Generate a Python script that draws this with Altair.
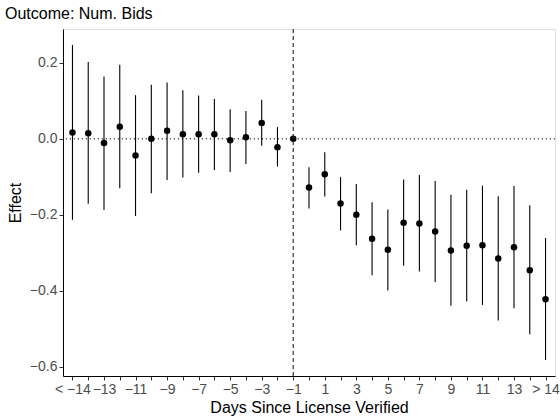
import json
import altair as alt
import pandas as pd

# Event-time bins, estimated effects and 95% confidence bounds (−1 is the reference bin)
days = ["< −14", "−14", "−13", "−12", "−11", "−10", "−9", "−8", "−7", "−6",
        "−5", "−4", "−3", "−2", "−1", "0", "1", "2", "3", "4", "5", "6", "7",
        "8", "9", "10", "11", "12", "13", "14", "> 14"]
effect = [0.017, 0.015, -0.011, 0.032, -0.044, 0.000, 0.021, 0.012, 0.012, 0.012,
          -0.004, 0.004, 0.042, -0.022, 0.000, -0.128, -0.093, -0.170, -0.200,
          -0.263, -0.292, -0.221, -0.223, -0.244, -0.294, -0.281, -0.280, -0.315,
          -0.285, -0.346, -0.422]
lower = [-0.213, -0.171, -0.187, -0.130, -0.203, -0.143, -0.108, -0.102, -0.089,
         -0.082, -0.087, -0.066, -0.018, -0.073, None, -0.183, -0.152, -0.241,
         -0.280, -0.359, -0.399, -0.334, -0.349, -0.377, -0.439, -0.428, -0.437,
         -0.478, -0.446, -0.514, -0.582]
upper = [0.247, 0.202, 0.164, 0.195, 0.115, 0.142, 0.148, 0.128, 0.114, 0.105,
         0.078, 0.073, 0.103, 0.031, None, -0.075, -0.035, -0.100, -0.119, -0.167,
         -0.186, -0.107, -0.095, -0.111, -0.147, -0.134, -0.123, -0.151, -0.124,
         -0.175, -0.261]
y_ticks = [-0.6, -0.4, -0.2, 0.0, 0.2]

df = pd.DataFrame({
    "pos": list(range(len(days))),
    "day": days,
    "effect": effect,
    "lower": lower,
    "upper": upper,
})

# label every other bin, starting from the first
tick_labels = [d if i % 2 == 0 else "" for i, d in enumerate(days)]
ref_pos = days.index("−1")

FONT = "Liberation Sans"

x_scale = alt.Scale(domain=[-0.6, len(days) - 0.4], nice=False, zero=False)
y_scale = alt.Scale(domain=[-0.624, 0.289], nice=False, zero=False)

x_axis = alt.Axis(
    title="Days Since License Verified",
    values=list(range(len(days))),
    labelExpr=f"{json.dumps(tick_labels, ensure_ascii=False)}[datum.value]",
    grid=False, domainColor="black", domainWidth=1,
    tickColor="#333333", tickSize=4, tickWidth=1,
    labelColor="#4D4D4D", labelFontSize=14, labelFont=FONT, labelPadding=2,
    labelOverlap=False, labelFlush=False,
    titleFont=FONT, titleFontSize=16, titleFontWeight="normal", titleColor="black",
    titlePadding=3,
)
y_axis = alt.Axis(
    title="Effect", values=y_ticks, format=".1f",
    grid=False, domainColor="black", domainWidth=1,
    tickColor="#333333", tickSize=4, tickWidth=1,
    labelColor="#4D4D4D", labelFontSize=14, labelFont=FONT, labelPadding=2,
    labelOverlap=False,
    titleFont=FONT, titleFontSize=16, titleFontWeight="normal", titleColor="black",
    titlePadding=6,
)

x_enc = lambda field: alt.X(field, scale=x_scale, axis=x_axis)
y_enc = lambda field: alt.Y(field, scale=y_scale, axis=y_axis)

base = alt.Chart(df)

bars = base.mark_rule(color="black", strokeWidth=1.1).encode(
    x=x_enc("pos:Q"),
    y=y_enc("lower:Q"),
    y2="upper:Q",
)

points = base.mark_point(filled=True, color="black", opacity=1, size=42).encode(
    x=x_enc("pos:Q"),
    y=y_enc("effect:Q"),
)

zero_line = alt.Chart(pd.DataFrame({"y": [0.0]})).mark_rule(
    color="black", strokeWidth=1, strokeDash=[1.2, 2.8]
).encode(y=y_enc("y:Q"))

ref_line = alt.Chart(pd.DataFrame({"x": [ref_pos]})).mark_rule(
    color="#333333", strokeWidth=1.2, strokeDash=[4, 3]
).encode(x=x_enc("x:Q"))

chart = alt.layer(bars, points, zero_line, ref_line).properties(
    width=492,
    height=347,
    title=alt.TitleParams(
        "Outcome: Num. Bids", anchor="start", frame="group", dx=-58, offset=6,
        font=FONT, fontSize=16, fontWeight="normal", color="black",
    ),
    autosize=alt.AutoSizeParams(type="none"),
    padding={"left": 63, "top": 29, "right": 5, "bottom": 41},
).configure_view(stroke=None).configure(background="white")

chart.save("out.html", embed_options={"renderer": "svg", "actions": False})
